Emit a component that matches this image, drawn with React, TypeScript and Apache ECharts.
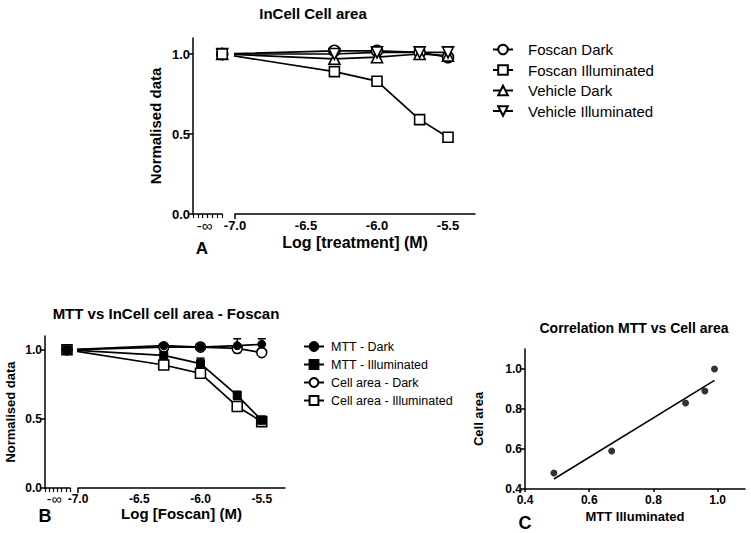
import { useEffect, useRef } from 'react';
import * as echarts from 'echarts';

const FONT = '"Liberation Sans", Arial, Helvetica, sans-serif';

// Log [treatment] (M) of the treated wells; each series' first value is the untreated control, shown at "-∞"
const logConc = [-6.3, -6.0, -5.7, -5.5];

// Panel A: InCell cell area
const foscanDark = [1.0, 1.02, 1.02, 1.01, 0.98];
const foscanIlluminated = [1.0, 0.89, 0.83, 0.59, 0.48];
const vehicleDark = [1.0, 0.97, 0.98, 1.0, 0.99];
const vehicleIlluminated = [1.0, 1.0, 1.01, 1.01, 1.01];

// Panel B: MTT vs InCell cell area - Foscan
const mttDark = [1.0, 1.03, 1.02, 1.03, 1.04];
const mttDarkErr = [0.01, 0.01, 0.01, 0.05, 0.04];
const mttIlluminated = [1.0, 0.96, 0.9, 0.67, 0.49];
const mttIlluminatedErr = [0.01, 0.01, 0.04, 0.03, 0.03];
const cellAreaDark = [1.0, 1.02, 1.02, 1.01, 0.98];
const cellAreaIlluminated = [1.0, 0.89, 0.83, 0.59, 0.48];

// Panel C: correlation
const corrMtt = [0.49, 0.67, 0.9, 0.96, 0.99];
const corrCellArea = [0.48, 0.59, 0.83, 0.89, 1.0];

// Tick labels
const logTicks = [-7.0, -6.5, -6.0, -5.5];
const normTicks = [0, 0.5, 1.0];
const corrTicks = [0.4, 0.6, 0.8, 1.0];

// layout: where the control is drawn (just left of the axis break)
const CONTROL_X = -7.09;

const pairs = (vals: number[]) => [CONTROL_X, ...logConc].map((x, i) => [x, vals[i]]);
const errTriples = (vals: number[], errs: number[]) =>
  [CONTROL_X, ...logConc].map((x, i) => [x, vals[i], errs[i]]);

const BLACK = '#000';
const axisLineStyle = { color: BLACK, width: 1.5 };

function mainXAxis(grid: number, name: string, nameGap: number, labelSize: number, nameSize: number) {
  return {
    gridIndex: grid,
    type: 'value',
    min: -7,
    max: -5.31,
    axisLine: { show: true, lineStyle: axisLineStyle },
    axisTick: { show: true, customValues: [-7], length: 5, lineStyle: axisLineStyle },
    axisLabel: {
      customValues: logTicks,
      formatter: (v: number) => v.toFixed(1),
      color: BLACK,
      fontWeight: 'bold',
      fontSize: labelSize,
      fontFamily: FONT,
      margin: 5,
    },
    splitLine: { show: false },
    name,
    nameLocation: 'middle',
    nameGap,
    nameTextStyle: { color: BLACK, fontWeight: 'bold', fontSize: nameSize, fontFamily: FONT },
  };
}

function breakXAxis(grid: number, labelAt: number, labelSize: number) {
  return {
    gridIndex: grid,
    type: 'value',
    min: 0,
    max: 6,
    interval: 1,
    axisLine: { show: true, lineStyle: axisLineStyle },
    axisTick: { show: true, length: 4, lineStyle: { color: BLACK, width: 1.2 } },
    axisLabel: {
      customValues: [labelAt],
      formatter: () => '-∞',
      color: BLACK,
      fontSize: labelSize,
      fontFamily: FONT,
      margin: 4,
    },
    splitLine: { show: false },
  };
}

function visibleYAxis(grid: number, min: number, max: number, ticks: number[], name: string, nameGap: number, labelSize: number, nameSize: number) {
  return {
    gridIndex: grid,
    type: 'value',
    min,
    max,
    axisLine: { show: true, lineStyle: axisLineStyle },
    axisTick: { show: true, customValues: ticks, length: 5, lineStyle: axisLineStyle },
    axisLabel: {
      customValues: ticks,
      formatter: (v: number) => v.toFixed(1),
      color: BLACK,
      fontWeight: 'bold',
      fontSize: labelSize,
      fontFamily: FONT,
      margin: 3,
    },
    splitLine: { show: false },
    name,
    nameLocation: 'middle',
    nameGap,
    nameTextStyle: { color: BLACK, fontWeight: 'bold', fontSize: nameSize, fontFamily: FONT },
  };
}

const openStyle = { color: '#fff', borderColor: BLACK, borderWidth: 1.6 };
const filledStyle = { color: BLACK, borderColor: BLACK, borderWidth: 1 };

function lineSeries(name: string, vals: number[], axis: number, symbol: string, size: number, filled: boolean, rotate = 0) {
  return {
    name,
    type: 'line',
    xAxisIndex: axis,
    yAxisIndex: axis,
    data: pairs(vals),
    symbol,
    symbolSize: size,
    symbolRotate: rotate,
    showAllSymbol: true,
    clip: false,
    lineStyle: { color: BLACK, width: 1.7 },
    itemStyle: filled ? filledStyle : openStyle,
    z: 3,
  };
}

function errorSeries(vals: number[], errs: number[], axis: number) {
  return {
    type: 'custom',
    xAxisIndex: axis,
    yAxisIndex: axis,
    data: errTriples(vals, errs),
    z: 2,
    silent: true,
    renderItem: (_p: any, api: any) => {
      const x = api.value(0);
      const y = api.value(1);
      const e = api.value(2);
      const top = api.coord([x, y + e]);
      const bot = api.coord([x, y - e]);
      const hw = 4;
      const st = { stroke: BLACK, lineWidth: 1.5 };
      return {
        type: 'group',
        children: [
          { type: 'line', shape: { x1: top[0], y1: top[1], x2: bot[0], y2: bot[1] }, style: st },
          { type: 'line', shape: { x1: top[0] - hw, y1: top[1], x2: top[0] + hw, y2: top[1] }, style: st },
          { type: 'line', shape: { x1: bot[0] - hw, y1: bot[1], x2: bot[0] + hw, y2: bot[1] }, style: st },
        ],
      };
    },
  };
}

// least-squares fit for panel C
function fitLine(xs: number[], ys: number[]) {
  const n = xs.length;
  const mx = xs.reduce((a, b) => a + b, 0) / n;
  const my = ys.reduce((a, b) => a + b, 0) / n;
  let sxy = 0;
  let sxx = 0;
  for (let i = 0; i < n; i++) {
    sxy += (xs[i] - mx) * (ys[i] - my);
    sxx += (xs[i] - mx) * (xs[i] - mx);
  }
  const b = sxy / sxx;
  const a = my - b * mx;
  const x0 = Math.min(...xs);
  const x1 = Math.max(...xs);
  return [[x0, a + b * x0], [x1, a + b * x1]];
}

function text(x: number, y: number, t: string, size: number, bold = true) {
  return {
    type: 'text',
    x,
    y,
    style: {
      text: t,
      fill: BLACK,
      font: `${bold ? 'bold ' : ''}${size}px ${FONT}`,
      textAlign: 'center',
      textVerticalAlign: 'middle',
    },
  };
}

export default function App() {
  const ref = useRef<HTMLDivElement>(null);
  useEffect(() => {
    if (!ref.current) return;
    const chart = echarts.init(ref.current, undefined, { renderer: 'svg' });
    const option: any = {
      animation: false,
      backgroundColor: '#fff',
      textStyle: { fontFamily: FONT },
      grid: [
        { left: 235, top: 38, width: 240, height: 176 },
        { left: 193, top: 38, width: 29, height: 176 },
        { left: 78, top: 336, width: 207, height: 152 },
        { left: 45, top: 336, width: 25, height: 152 },
        { left: 525, top: 349, width: 220, height: 140 },
      ],
      xAxis: [
        mainXAxis(0, 'Log [treatment] (M)', 20, 13, 16),
        breakXAxis(1, 2.4, 15),
        mainXAxis(2, 'Log [Foscan] (M)', 16, 12, 15),
        breakXAxis(3, 2.2, 14),
        {
          gridIndex: 4,
          type: 'value',
          min: 0.4,
          max: 1.085,
          axisLine: { show: true, lineStyle: axisLineStyle },
          axisTick: { show: true, customValues: corrTicks, length: 3, lineStyle: axisLineStyle },
          axisLabel: {
            customValues: corrTicks,
            formatter: (v: number) => v.toFixed(1),
            color: BLACK,
            fontWeight: 'bold',
            fontSize: 12,
            fontFamily: FONT,
            margin: 5,
          },
          splitLine: { show: false },
          name: 'MTT Illuminated',
          nameLocation: 'middle',
          nameGap: 21,
          nameTextStyle: { color: BLACK, fontWeight: 'bold', fontSize: 13, fontFamily: FONT },
        },
      ],
      yAxis: [
        { gridIndex: 0, type: 'value', min: 0, max: 1.1, show: false },
        visibleYAxis(1, 0, 1.1, normTicks, 'Normalised data', 30, 13, 15),
        { gridIndex: 2, type: 'value', min: 0, max: 1.1, show: false },
        visibleYAxis(3, 0, 1.1, normTicks, 'Normalised data', 28, 12, 13),
        visibleYAxis(4, 0.4, 1.1, corrTicks, 'Cell area', 40, 12, 13),
      ],
      legend: [
        {
          data: ['Foscan Dark', 'Foscan Illuminated', 'Vehicle Dark', 'Vehicle Illuminated'],
          orient: 'vertical',
          left: 487,
          top: 37,
          itemWidth: 20,
          itemHeight: 12,
          itemGap: 5.5,
          textStyle: { color: BLACK, fontSize: 15, fontFamily: FONT, padding: [0, 0, 0, 10] },
        },
        {
          data: ['MTT - Dark', 'MTT - Illuminated', 'Cell area - Dark', 'Cell area - Illuminated'],
          orient: 'vertical',
          left: 298,
          top: 335,
          itemWidth: 20,
          itemHeight: 11,
          itemGap: 5,
          textStyle: { color: BLACK, fontSize: 12.5, fontFamily: FONT, padding: [0, 0, 0, 2] },
        },
      ],
      series: [
        lineSeries('Foscan Dark', foscanDark, 0, 'circle', 11, false),
        lineSeries('Vehicle Dark', vehicleDark, 0, 'triangle', 11, false),
        lineSeries('Vehicle Illuminated', vehicleIlluminated, 0, 'triangle', 11, false, 180),
        lineSeries('Foscan Illuminated', foscanIlluminated, 0, 'rect', 10, false),

        errorSeries(mttDark, mttDarkErr, 2),
        errorSeries(mttIlluminated, mttIlluminatedErr, 2),
        lineSeries('Cell area - Dark', cellAreaDark, 2, 'circle', 10, false),
        lineSeries('Cell area - Illuminated', cellAreaIlluminated, 2, 'rect', 10, false),
        lineSeries('MTT - Dark', mttDark, 2, 'circle', 8, true),
        lineSeries('MTT - Illuminated', mttIlluminated, 2, 'rect', 8, true),

        {
          name: 'Correlation',
          type: 'scatter',
          xAxisIndex: 4,
          yAxisIndex: 4,
          data: corrMtt.map((x, i) => [x, corrCellArea[i]]),
          symbol: 'circle',
          symbolSize: 7,
          itemStyle: { color: BLACK },
          z: 3,
        },
        {
          name: 'Fit',
          type: 'line',
          xAxisIndex: 4,
          yAxisIndex: 4,
          data: fitLine(corrMtt, corrCellArea),
          showSymbol: false,
          symbol: 'none',
          lineStyle: { color: BLACK, width: 1.5 },
          z: 2,
        },
      ],
      graphic: [
        text(313, 13, 'InCell Cell area', 15),
        text(202, 248, 'A', 17),
        text(166, 313, 'MTT vs InCell cell area - Foscan', 15),
        text(45, 516, 'B', 18),
        text(634, 328, 'Correlation MTT vs Cell area', 14),
        text(525, 523, 'C', 18),
      ],
    };
    chart.setOption(option);
    return () => chart.dispose();
  }, []);
  return (
    <div
      ref={ref}
      style={{ position: 'fixed', left: 0, top: 0, width: 751, height: 533, background: '#fff' }}
    />
  );
}
